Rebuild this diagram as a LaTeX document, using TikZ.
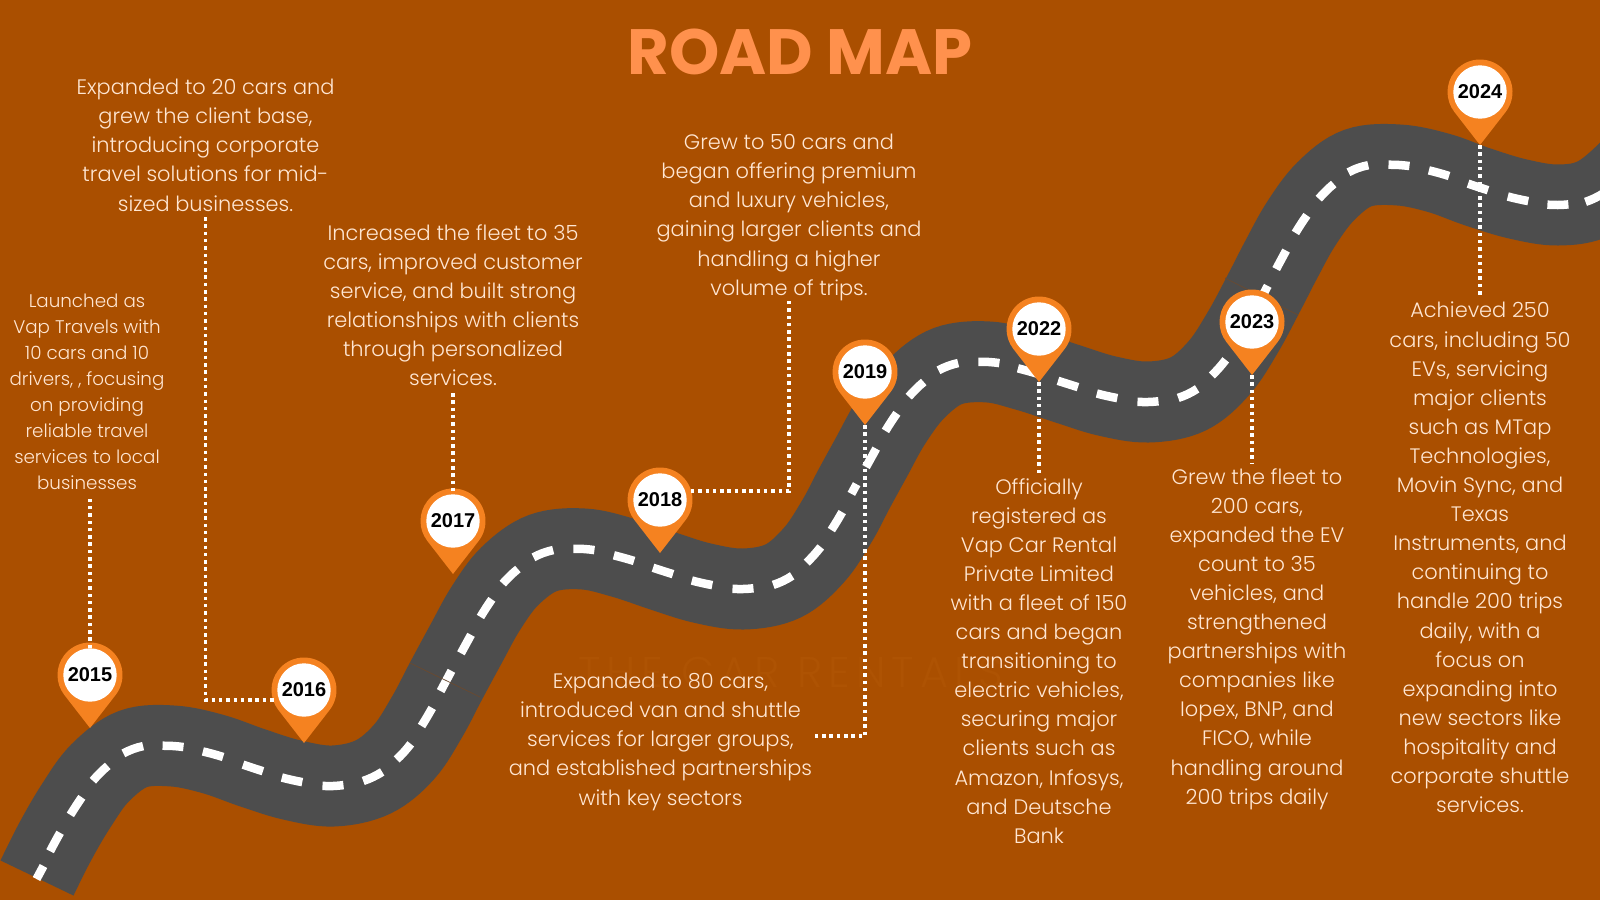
\documentclass[tikz,border=0pt]{standalone}
\usepackage{fontspec}
\newfontfamily\lightf{Poppins Light}
\newfontfamily\ghostf{Poppins Light}[LetterSpace=14]
\newfontfamily\titlef{Poppins}[UprightFont=*-Bold]
\newfontfamily\yearf{Liberation Sans Bold}
\usetikzlibrary{calc}
\definecolor{bgc}{HTML}{AA4F00}
\definecolor{roadc}{HTML}{4D4D4D}
\definecolor{pinc}{HTML}{F58220}
\definecolor{titlec}{HTML}{FF914D}
\definecolor{textc}{HTML}{FFE6D2}
\definecolor{ghostc}{HTML}{AE5303}
\definecolor{seamc}{HTML}{6A4A30}
\tikzset{
  pinface/.style={circle,fill=white,minimum size=53.4pt,inner sep=0pt,text=black,font=\yearf\fontsize{20}{21}\selectfont},
  story/.style={align=center,inner sep=0pt,anchor=north,text=textc,font=\lightf\fontsize{20.9}{29.1}\selectfont},
  storysmall/.style={story,font=\lightf\fontsize{18.3}{25.9}\selectfont},
  dots/.style={white,line width=3.3pt,dash pattern=on 3.5pt off 3.8pt},
  lane/.style={white,line width=8.5pt},
}
\newcommand\pinmark[3]{%
  \fill[pinc] (#1,#2) ++(-37.8:32.5pt) arc[start angle=-37.8,end angle=217.8,radius=32.5pt] -- ($(#1,#2)+(0,53)$) -- cycle;
  \coordinate (tip#3) at ($(#1,#2)+(0,53)$);
  \node[pinface] (p#3) at (#1,#2) {#3};
}
% one lane dash, on the parabola through three successive dash centres
\newcommand\lanedash[7]{%
  \pgfmathsetmacro\vx{(#5-#1)/2}\pgfmathsetmacro\vy{(#6-#2)/2}%
  \pgfmathsetmacro\wx{(#1+#5-2*#3)/2}\pgfmathsetmacro\wy{(#2+#6-2*#4)/2}%
  \pgfmathsetmacro\hh{#7/veclen(\vx,\vy)}%
  \draw[lane] ({#3-\hh*\vx+\hh*\hh*\wx},{#4-\hh*\vy+\hh*\hh*\wy})
    .. controls ({#3-\hh*\vx/3-\hh*\hh*\wx/3},{#4-\hh*\vy/3-\hh*\hh*\wy/3})
    and ({#3+\hh*\vx/3-\hh*\hh*\wx/3},{#4+\hh*\vy/3-\hh*\hh*\wy/3})
    .. ({#3+\hh*\vx+\hh*\hh*\wx},{#4+\hh*\vy+\hh*\hh*\wy});%
}
\gdef\ax{0}\gdef\ay{0}\gdef\bx{0}\gdef\by{0}\gdef\bl{0}\newcount\lanecount
\newcommand\lanestep[3]{%
  \global\advance\lanecount by 1
  \ifnum\lanecount>2 \lanedash{\ax}{\ay}{\bx}{\by}{#1}{#2}{\bl}\fi
  \xdef\ax{\bx}\xdef\ay{\by}\xdef\bx{#1}\xdef\by{#2}\xdef\bl{#3}%
}
\begin{document}
\begin{tikzpicture}[x=1pt,y=-1pt]
\useasboundingbox (0,0) rectangle (1600,900);
\fill[bgc] (0,0) rectangle (1600,900);
\node[text=ghostc,font=\ghostf\fontsize{43}{46}\selectfont,anchor=west,inner sep=0pt] (ghost) at (578,672) {THE CAR RENTALS};
\def\centerline{(37,878) (55,842) (76,806) (100,773) (133,749) (173,746) (213,754) (253,768) (292,780) (333,786) (373,777) (404,752) (427,717) (446,681) (466,644) (486,608) (510,576) (543,553) (584,549) (624,558) (663,571) (702,583) (743,589) (783,581) (814,555) (837,521) (854,489) (871,458) (891,422) (916,389) (948,366) (989,362) (1028,371) (1068,384) (1107,396) (1148,402) (1188,394) (1219,368) (1243,332) (1265,291) (1281,260) (1301,224) (1326,191) (1358,168) (1399,165) (1439,173) (1478,187) (1518,199) (1558,205) (1595,198) (1630,170) (1665,130)}
\draw[roadc,line width=81pt] plot[smooth,tension=0.6] coordinates {\centerline};
\draw[lane] (36.5,879) -- (43.5,866);
\foreach \x/\y/\l in {37/878/10.5,55/842/10.5,76/806/10.5,100/773/10.5,133/749/10.5,173/746/10.5,213/754/10.5,253/768/10.5,292/780/10.5,333/786/10.5,373/777/10.5,404/752/10.5,427/717/10.5,446/681/11.5,466/644/10.5,486/608/10.5,510/576/10.5,543/553/10.5,584/549/10.5,624/558/10.5,663/571/10.5,702/583/10.5,743/589/10.5,783/581/10.5,814/555/10.5,837/521/10.5,854/489/5.5,871/458/10.5,891/422/10.5,916/389/10.5,948/366/10.5,989/362/10.5,1028/371/10.5,1068/384/10.5,1107/396/10.5,1148/402/10.5,1188/394/10.5,1219/368/10.5,1243/332/10.5,1265/291/6,1281/260/10.5,1301/224/10.5,1326/191/10.5,1358/168/10.5,1399/165/10.5,1439/173/10.5,1478/187/10.5,1518/199/10.5,1558/205/10.5,1595/198/10.5,1630/170/10.5}
  {\lanestep{\x}{\y}{\l}}
\draw[seamc,line width=0.7pt] (410,663) -- (480,697);
\draw[seamc,line width=0.7pt] (1225,278) -- (1298,315);
\node[font=\titlef\fontsize{64}{70}\selectfont,text=titlec,inner sep=0pt] (title) at (800,52) {ROAD MAP};
\pinmark{90}{675}{2015}
\pinmark{304}{690}{2016}
\pinmark{453}{521}{2017}
\pinmark{660}{500}{2018}
\pinmark{865}{372}{2019}
\pinmark{1039}{329}{2022}
\pinmark{1252}{322}{2023}
\pinmark{1480}{92}{2024}
\node[storysmall] (t2015) at (87,294) {Launched as\\Vap Travels with\\10 cars and 10\\drivers, , focusing\\on providing\\reliable travel\\services to local\\businesses};
\node[story] (t2016) at (205.5,79) {Expanded to 20 cars and\\grew the client base,\\introducing corporate\\travel solutions for mid-\\sized businesses.};
\node[story] (t2017) at (453,224) {Increased the fleet to 35\\cars, improved customer\\service, and built strong\\relationships with clients\\through personalized\\services.};
\node[story] (t2018) at (789,134) {Grew to 50 cars and\\began offering premium\\and luxury vehicles,\\gaining larger clients and\\handling a higher\\volume of trips.};
\node[story] (t2019) at (660.5,673) {Expanded to 80 cars,\\introduced van and shuttle\\services for larger groups,\\and established partnerships\\with key sectors};
\node[story] (t2022) at (1039,478) {Officially\\registered as\\Vap Car Rental\\Private Limited\\with a fleet of 150\\cars and began\\transitioning to\\electric vehicles,\\securing major\\clients such as\\Amazon, Infosys,\\and Deutsche\\Bank};
\node[story] (t2023) at (1257,468) {Grew the fleet to\\200 cars,\\expanded the EV\\count to 35\\vehicles, and\\strengthened\\partnerships with\\companies like\\Iopex, BNP, and\\FICO, while\\handling around\\200 trips daily};
\node[story] (t2024) at (1480,302) {Achieved 250\\cars, including 50\\EVs, servicing\\major clients\\such as MTap\\Technologies,\\Movin Sync, and\\Texas\\Instruments, and\\continuing to\\handle 200 trips\\daily, with a\\focus on\\expanding into\\new sectors like\\hospitality and\\corporate shuttle\\services.};
\coordinate (e2015) at (p2015.north |- 0,495);
\coordinate (e2016a) at (t2016.south |- 0,217);
\coordinate (e2016b) at ($(p2016.west)+(-3,10)$);
\coordinate (e2017) at (t2017.south |- 0,393);
\coordinate (e2018a) at ($(p2018.east)+(4,-9)$);
\coordinate (e2018b) at (t2018.south |- 0,301);
\coordinate (e2019) at (815,736);
\coordinate (e2022) at (tip2022 |- 0,473);
\coordinate (e2023) at (tip2023 |- 0,463);
\coordinate (e2024) at (tip2024 |- 0,297);
\draw[dots] (p2015.north) -- (e2015);
\draw[dots] (e2016a) |- (e2016b);
\draw[dots] (e2017) -- (p2017.north);
\draw[dots] (e2018a) -| (e2018b);
\draw[dots] (tip2019) |- (e2019);
\draw[dots] (tip2022) -- (e2022);
\draw[dots] (tip2023) -- (e2023);
\draw[dots] (tip2024) -- (e2024);
\end{tikzpicture}
\end{document}
